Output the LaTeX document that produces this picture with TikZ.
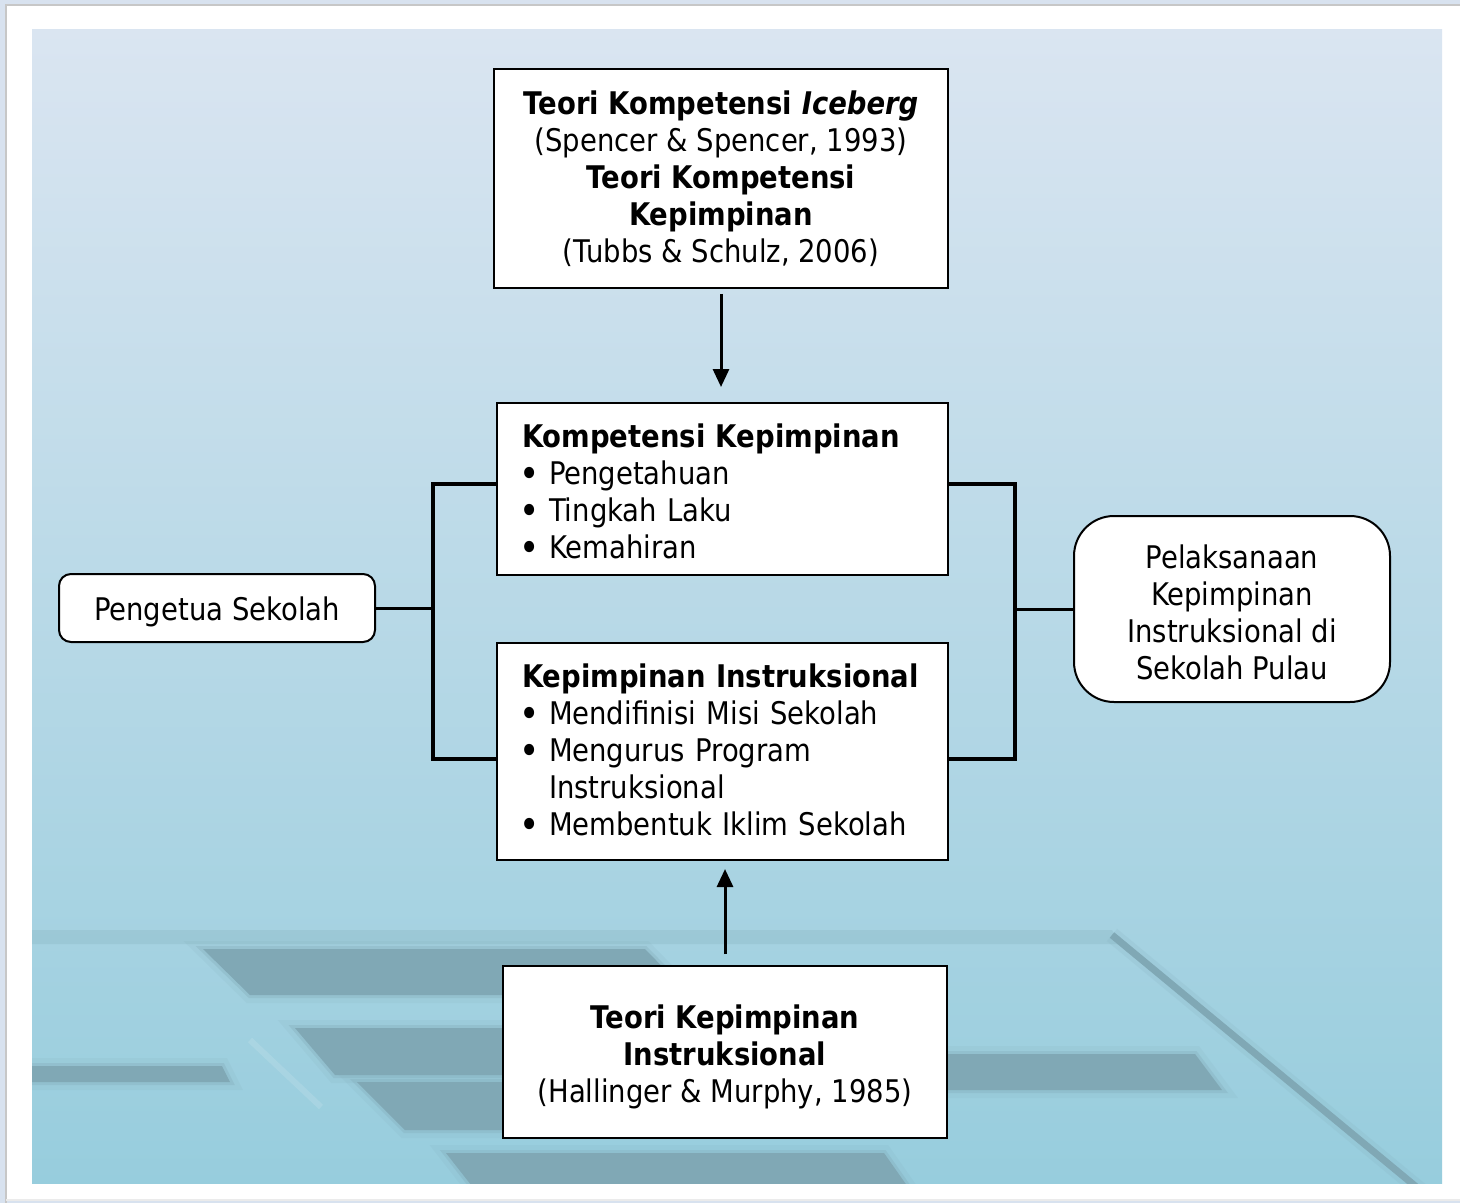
\documentclass[tikz,border=0pt]{standalone}
\usepackage{fontspec}
\usepackage{graphicx}
\setmainfont{DejaVu Sans}[FakeStretch=0.88]
\usetikzlibrary{arrows.meta,calc}
\definecolor{outerc}{HTML}{D8E2EF}
\definecolor{ptop}{HTML}{DAE5F1}
\definecolor{pmid}{HTML}{B9DDE7}
\definecolor{pbot}{HTML}{97CDDD}
\definecolor{decoc}{HTML}{80A8B5}
\definecolor{bandc}{HTML}{98C5D2}
\newcommand\fs{\fontsize{15.6}{18.5}\selectfont}
\newcommand\bul{\makebox[13.5pt][l]{\hspace*{-1.2pt}\raisebox{-1.5pt}{\scalebox{1.25}{\textbullet}}}}
\begin{document}
\begin{tikzpicture}[x=0.5pt,y=-0.5pt,
  box/.style={draw=black, line width=1pt, fill=white, inner sep=0pt, font=\fs},
  rbox/.style={box, rounded corners=6pt},
  conn/.style={line width=1.5pt},
  brk/.style={line width=2pt},
  arr/.style={line width=1.5pt, -{Triangle[length=9pt,width=8pt]}},
  deco/.style={fill=decoc, draw=decoc, draw opacity=0.3, line width=3pt},
  halo/.style={draw=decoc, draw opacity=0.12, line width=8pt}]
\useasboundingbox (0,0) rectangle (1460,1203);
% page background
\fill[outerc] (0,0) rectangle (1460,1203);
\fill[white] (6,5) rectangle (1460,1199);
\draw[black!22, line width=1pt] (6,1203) -- (6,5) -- (1460,5);
\draw[black!8, line width=1pt] (6,1200) -- (1460,1200);
% panel
\shade[top color=ptop, middle color=pmid, bottom color=pbot] (32,30) rectangle (1442,1183);
\begin{scope}
\clip (32,30) rectangle (1442,1183);
\fill[bandc, opacity=0.7] (32,930) -- (1112,930) -- (1120,944) -- (32,944) -- cycle;
\draw[decoc, opacity=0.15, line width=8pt] (1112,935) -- (1420,1190);
\draw[decoc, line width=3.5pt] (1112,935) -- (1420,1190);
\foreach \p in {
  {(203,949) -- (645,949) -- (690,995) -- (250,995) -- cycle},
  {(295,1028) -- (600,1028) -- (640,1075) -- (335,1075) -- cycle},
  {(32,1066) -- (222,1066) -- (230,1082) -- (32,1082) -- cycle},
  {(357,1082) -- (600,1082) -- (640,1130) -- (405,1130) -- cycle},
  {(900,1054) -- (1195,1054) -- (1222,1090) -- (900,1090) -- cycle},
  {(446,1153) -- (884,1153) -- (910,1190) -- (475,1190) -- cycle}}{
  \path[halo] \p;
  \fill[deco] \p;
}
\draw[white, opacity=0.12, line width=3pt] (250,1040) -- (321,1107);
\end{scope}
% nodes
\node[box, minimum width=227pt, minimum height=109.5pt, align=center] (top) at (721,178.5)
  {\textbf{Teori Kompetensi \textit{Iceberg}}\\(Spencer \& Spencer, 1993)\\\textbf{Teori Kompetensi}\\\textbf{Kepimpinan}\\(Tubbs \& Schulz, 2006)};
\node[box, minimum width=225.5pt, minimum height=86pt, text width=200.5pt, align=left] (kk) at (722.5,489)
  {\rule{0pt}{15.5pt}\textbf{Kompetensi Kepimpinan}\\\bul Pengetahuan\\\bul Tingkah Laku\\\bul Kemahiran};
\node[box, minimum width=225.5pt, minimum height=108.5pt, text width=200.5pt, align=left] (ki) at (722.5,751.5)
  {\textbf{Kepimpinan Instruksional}\\\bul Mendifinisi Misi Sekolah\\\bul Mengurus Program\\\hspace*{13.5pt}Instruksional\\\bul Membentuk Iklim Sekolah};
\node[box, minimum width=222pt, minimum height=86pt, align=center] (bot) at (725,1052)
  {\rule{0pt}{16.6pt}\textbf{Teori Kepimpinan}\\\textbf{Instruksional}\\(Hallinger \& Murphy, 1985)};
\node[rbox, minimum width=158pt, minimum height=34pt] (peng) at (217,608) {\rule{0pt}{15.5pt}Pengetua Sekolah};
\node[rbox, rounded corners=20pt, minimum width=158pt, minimum height=93pt, align=center] (pel) at (1232,609)
  {\\[-3.5pt]Pelaksanaan\\Kepimpinan\\Instruksional di\\Sekolah Pulau};
% connectors
\coordinate (lt) at (433,484);
\coordinate (lb) at (433,759);
\coordinate (rt) at (1015,484);
\coordinate (rb) at (1015,759);
\draw[brk] (kk.west |- lt) -- (lt) -- (lb) -- (ki.west |- lb);
\draw[conn] (peng.east) -- (lt |- peng.east);
\draw[brk] (kk.east |- rt) -- (rt) -- (rb) -- (ki.east |- rb);
\draw[conn] (rt |- pel.west) -- (pel.west);
\draw[arr, shorten <=2.5pt, shorten >=7.5pt] (top.south) -- (top.south |- kk.north);
\draw[arr, shorten <=5.5pt, shorten >=4pt] (bot.north) -- (bot.north |- ki.south);
\end{tikzpicture}
\end{document}
